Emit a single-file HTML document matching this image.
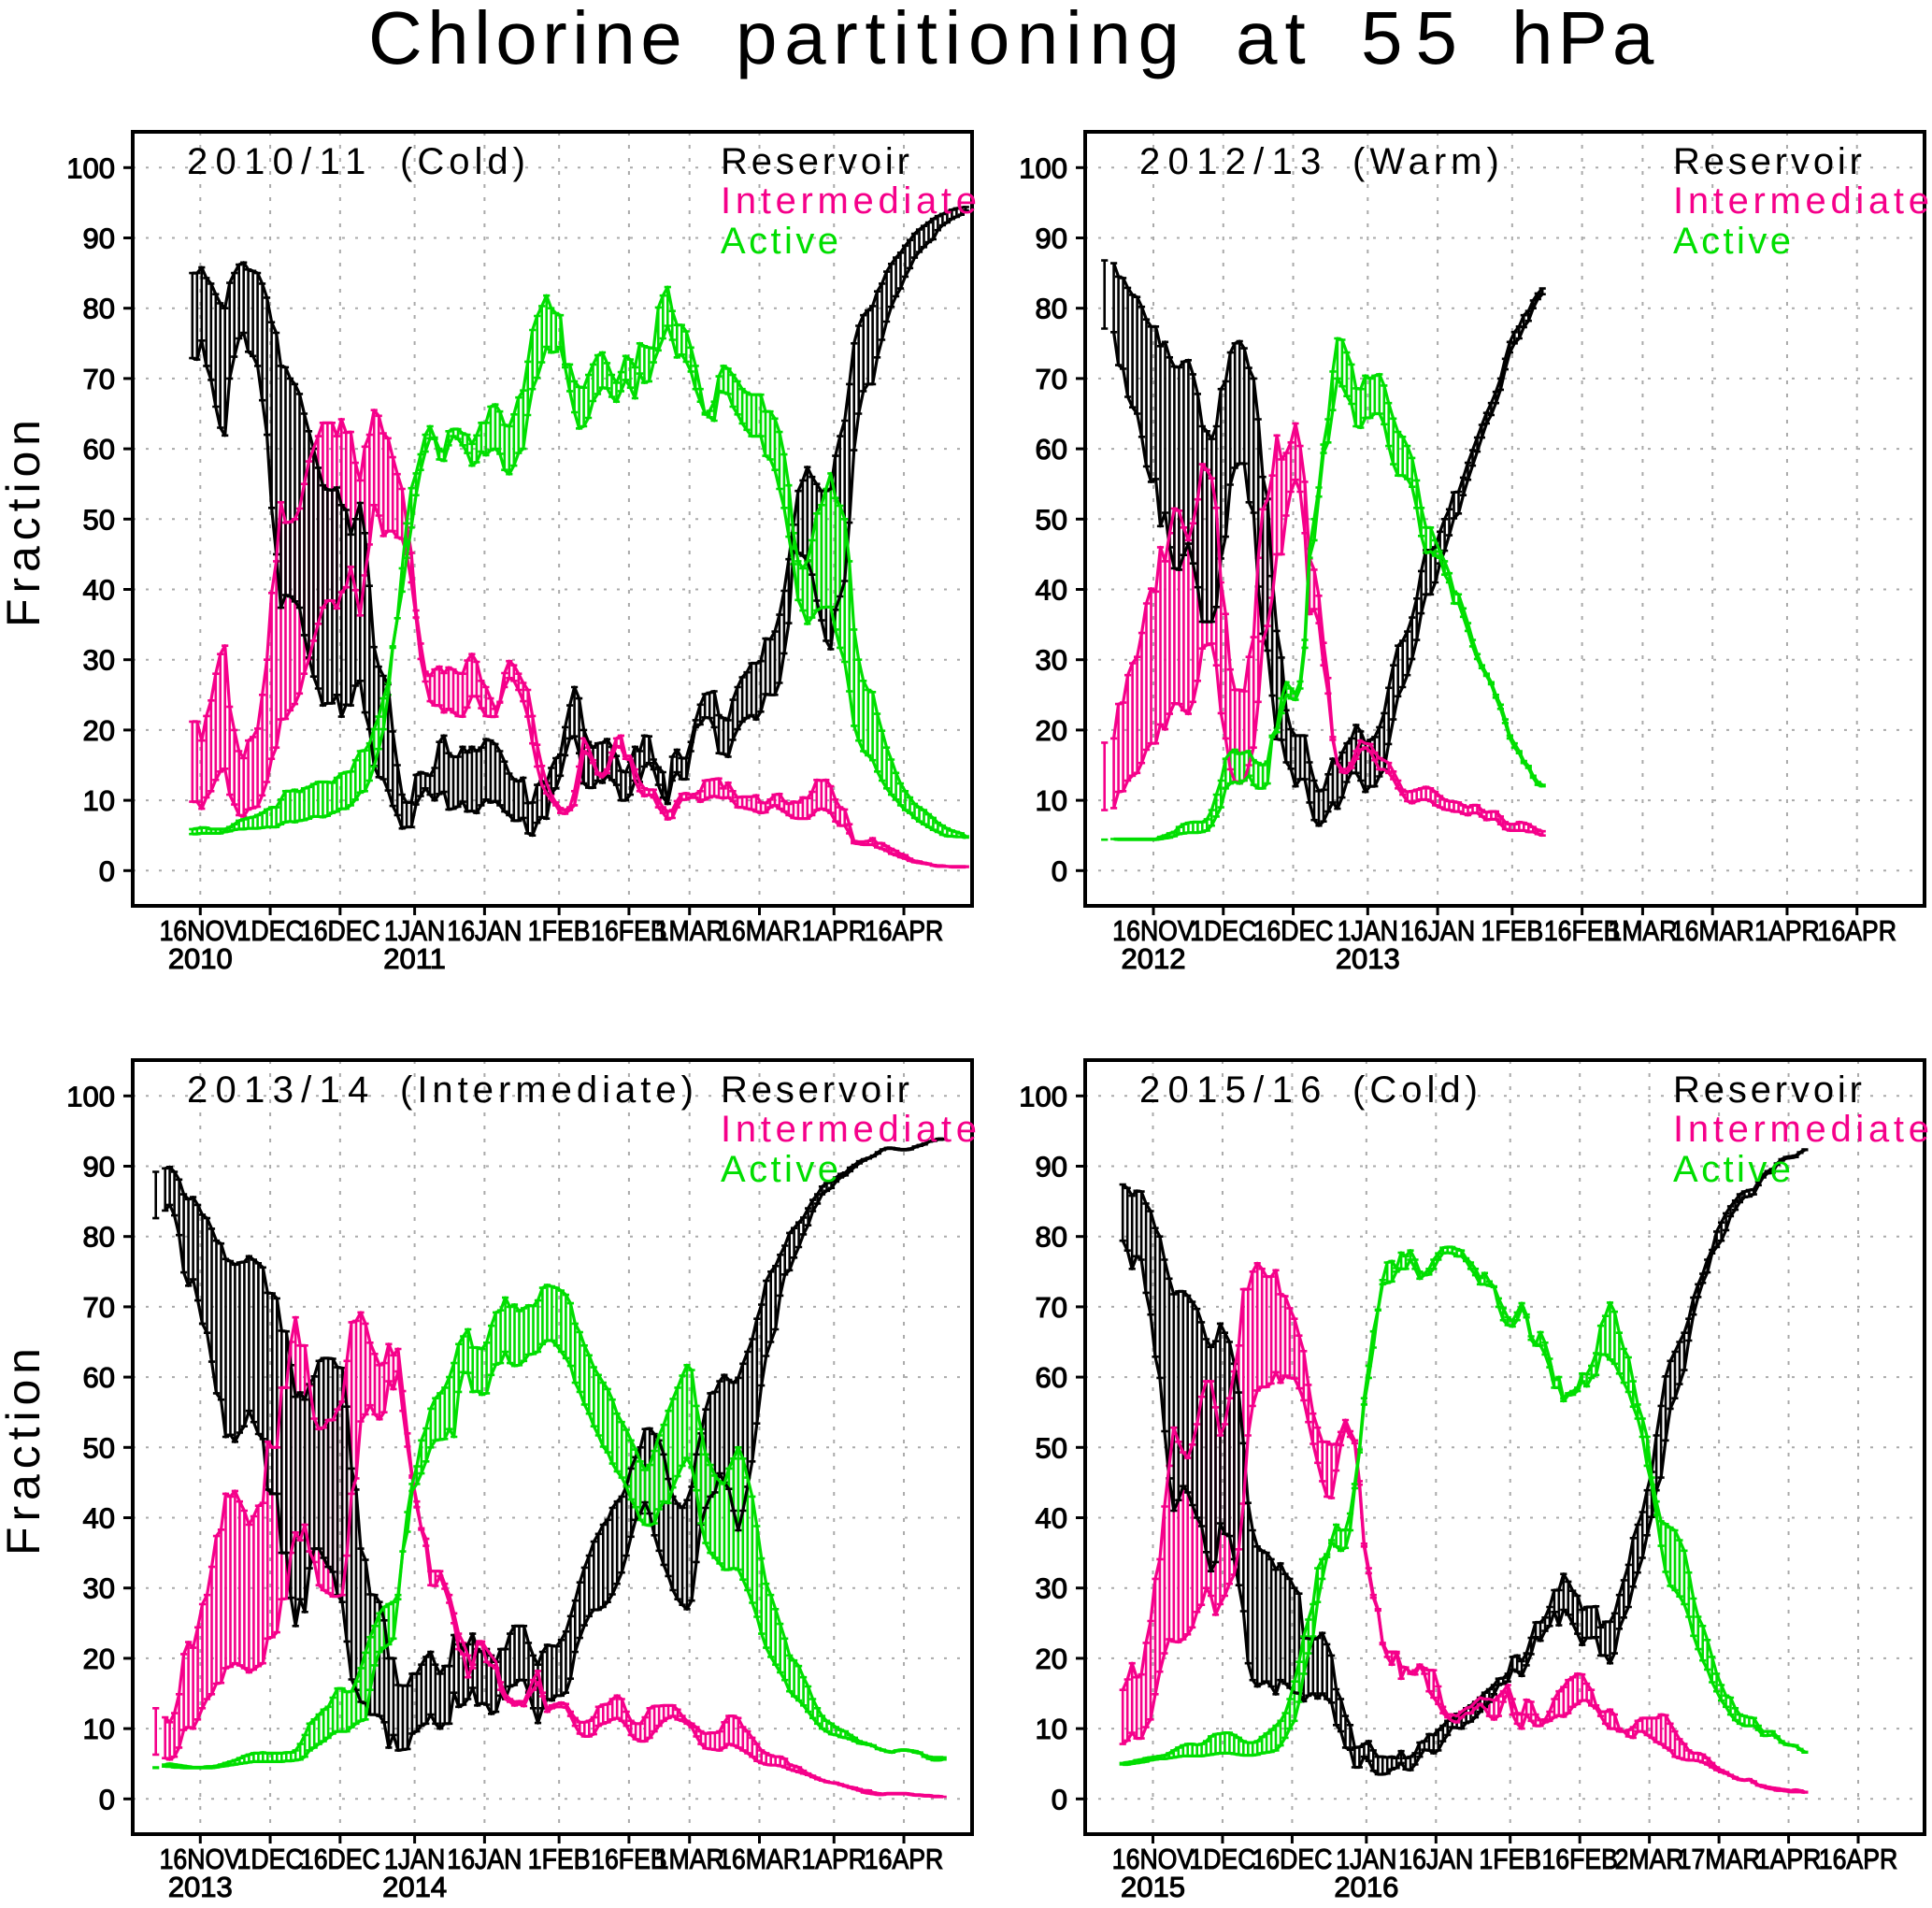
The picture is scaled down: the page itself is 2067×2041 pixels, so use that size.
<!DOCTYPE html>
<html>
<head>
<meta charset="utf-8">
<title>Chlorine partitioning at 55 hPa</title>
<style>
html,body{margin:0;padding:0;background:#fff;width:2067px;height:2041px;overflow:hidden}
svg{display:block}
text{font-family:"Liberation Sans",sans-serif}
.tick{font-size:31px;fill:#000;stroke:#000;stroke-width:1.1px}
.lab{font-size:40px}
</style>
</head>
<body>
<svg id="chart" xmlns="http://www.w3.org/2000/svg" width="2067" height="2041" viewBox="0 0 2067 2041">
<rect x="0" y="0" width="2067" height="2041" fill="#fff"/>
<text y="68" font-size="80" fill="#000"><tspan x="394" style="letter-spacing:5.4px">Chlorine </tspan><tspan x="787" style="letter-spacing:7.6px">partitioning </tspan><tspan x="1322" style="letter-spacing:8px">at </tspan><tspan x="1456" style="letter-spacing:14px">55 </tspan><tspan x="1617" style="letter-spacing:5px">hPa</tspan></text>
</svg>
<script>
const yTickValues=[0,10,20,30,40,50,60,70,80,90,100];
const tickDaysStd=[0,15,30,46,61,77,92,105,120,136,151];
const tickLabelsStd=["16NOV","1DEC","16DEC","1JAN","16JAN","1FEB","16FEB","1MAR","16MAR","1APR","16APR"];
const tickDaysLeap=[0,15,30,46,61,77,92,107,122,137,152];
const tickLabelsLeap=["16NOV","1DEC","16DEC","1JAN","16JAN","1FEB","16FEB","2MAR","17MAR","1APR","16APR"];
const seriesNames=["Reservoir","Intermediate","Active"];

const p1ResHi=[85,85,85.8,84.3,83.5,82,80.7,80,83.6,85,
86.2,86.5,85.5,85.3,85,83.5,81.5,78,76.5,71.8,
71.6,70,69.2,67.8,65,62.5,60,57.3,54.8,54.2,
54.1,54.5,52,51.3,47.8,50,52.3,48,40.5,31.8,
29,27.7,26.5,19.8,15,10.8,9.7,9.7,13.6,14,
13.8,13.5,14.6,18.3,19.2,16.7,16.2,16.2,17.6,16.8,
17.6,17,17.5,18.7,18.5,18,17,15.5,13.8,13,
12.7,13.2,9.6,9.7,12.2,12.7,12.4,14.6,16,16.5,
20.4,23.5,26.1,24.5,20,18.3,17.5,18.1,18.2,18.7,
17.6,16.3,14.2,14,15.5,17.6,17,19.2,19.1,15.8,
14.7,14,9.5,16.2,17.2,16,16,18.3,21.4,23.6,
25.1,25.3,25.5,22.1,21.7,21.4,24.3,26.1,27.5,28.2,
29.5,29.5,29.8,33,32.9,34,36.4,39.8,44.3,49.2,
54,55.5,57.4,56,55,54,54,54.3,59,61.8,
64,69.2,75,77.5,79,79.7,80.3,82.4,83.5,85.2,
86.3,87.2,87.9,88.9,89.7,90.6,91.2,91.7,92.2,92.7,
93.1,93.4,93.7,94,94.2,94.3,94.4];
const p1ResLo=[72.9,72.7,75.4,71.8,69.8,66,63,61.9,70,73.1,
75.7,76.5,73.8,73.2,71.8,66.9,62,51.6,45,37.4,
39.2,39,38.3,37.4,33.5,30.3,27.6,25.9,23.5,23.8,
23.8,25,21.9,23.6,23.5,26.3,27,22.5,20.1,14.9,
13.3,13,11.4,9.2,7.9,6,6.2,6.2,9.4,10.6,
11.7,10.8,10,10.9,11.2,8.7,8.8,9.1,9.8,8.4,
8.5,8.2,9.3,10.1,9.7,9.9,9.3,8.4,7.9,7.1,
7.1,7.5,5.3,5,6.8,7.6,7.4,11,11.7,13.5,
16.4,18.8,19.1,16.7,12.4,11.8,11.8,12.8,12.5,13.5,
12.9,12.2,10,10,10.8,12.8,12.6,14.8,15.3,14.4,
12.2,10.4,9.6,12.8,14,13,13,17,20.4,20.8,
21.8,21.7,20.4,16.7,16.6,16.2,18.6,20.1,21.2,21.7,
22.1,21.5,22.6,25.1,25,25,26.7,30.9,35.2,45.4,
45.2,44.8,44.1,42.1,38.4,35.6,32.7,31.5,37.1,39,
41.2,49.5,59.8,65,68.2,69.2,69.2,73,75.5,78.1,
80.2,81.7,82.8,84.5,85.7,87.2,88,88.7,89.4,89.8,
91.1,91.8,92.2,92.7,93,93.3,93.9];
const p1IntHi=[21.2,21.2,18.5,22,24.2,28,30.8,32,23.3,20,
17,16,18.5,19,20.2,25,30,39.5,44,52.4,
49.5,49.6,50,51.5,55,58.2,60,61.8,63.7,63.7,
63.7,61.8,64.2,62.3,62.4,58,55.5,60.3,62,65.5,
64.7,62.2,61.5,58.8,56.4,54.3,49.4,45.2,37,32.3,
28.3,27.7,28.6,29,28.1,28.9,28.6,28.1,28,29.9,
30.8,29.7,27,26.1,24.5,23,24,28.1,29.8,29.2,
28,26.7,25.7,22,17.9,14.9,12.5,10.8,9.7,8.9,
8.6,9,11.3,14.8,18.8,17.5,15.7,13.9,13.7,14.4,
16.8,18.8,19.2,16.3,16.3,14.4,12.6,11.7,11.5,11.5,
10.1,9,8.4,8.6,9.9,10.9,11,10.8,10.9,11.3,
12.8,12.9,13,13.1,11.7,12.5,11.3,10.4,10.5,10.5,
10.5,10.7,9.7,9.6,10.1,10.8,10.9,9.9,9.5,9.8,
9.7,10.4,10.3,11.2,12.9,12.8,12.9,12,10.1,9,
8.7,6.6,4.2,4.1,4.1,4.2,4.6,3.9,3.9,3.5,
3.1,2.8,2.4,2.2,1.7,1.4,1.3,1.1,1,0.8,
0.7,0.7,0.6,0.6,0.6,0.6,0.6];
const p1IntLo=[9.8,9.8,8.8,10.4,11.3,12.9,14.1,14.5,10.8,9.4,
7.9,7.7,8.7,8.9,9.1,10.7,12.6,15.9,17.5,21.5,
21.6,22.8,23.7,25.2,28,30.1,32.7,35.1,37.4,38.4,
38.4,37.3,39.6,40.3,43.2,39.9,36.3,42,46.4,52,
50.5,47.6,48.3,48.3,47.4,47.2,45,41,36,30.1,
26.9,24.1,23.5,23.5,22.5,23,22.5,22,21.9,23.2,
24.8,24.8,23.1,22,21.9,21.9,23.9,26.1,27.4,27,
25.7,24.1,21.9,18.1,14.8,12.2,11,10,9.3,8.2,
8.1,8.6,9.3,12.6,17,16.6,15.3,13.7,13.3,13.9,
16.1,17.7,17.5,15.9,15.7,12.8,11.3,10.6,10.8,10.4,
9,8.2,7.3,7.5,9,10.1,10.1,10.4,10.4,9.8,
10.1,10.4,10.6,10.4,10.3,10.4,9.9,9,9,8.8,
8.7,8.4,8.2,8.3,9,9.3,8.8,8.4,7.9,7.5,
7.4,7.4,7.4,7.9,8.6,8.8,8.6,8.2,7,6.4,
6.4,5.3,3.9,3.8,3.7,3.7,3.7,3.3,3.1,2.8,
2.4,2.2,1.9,1.7,1.4,1.2,1.1,1,0.9,0.7,
0.6,0.6,0.6,0.5,0.5,0.5,0.5];
const p1ActHi=[5.9,6,6.1,6.1,5.9,5.9,5.9,5.9,6.2,6.6,
7.1,7.3,7.5,7.6,7.9,8.2,8.7,9,9,10.1,
11.3,11.3,11.5,11.2,11.7,11.9,12.3,12.6,12.6,12.6,
12.5,13.2,13.8,14,14.1,15.7,17,17.1,18.1,20.1,
21.9,24.5,26.7,31.9,35.9,43,49.4,54.4,56.5,59.2,
62,63.2,61.6,60,59.6,62.5,62.8,62.8,62.2,62,
60.7,61.9,63.7,63.7,66,66.3,65.3,63.4,63.2,64.9,
67.3,68.3,72.4,76.9,78.9,80.3,81.8,80,79.3,79,
72,72,69.6,68.8,68.7,70.5,72,73.3,73.7,72.2,
70.5,69.4,70.9,73.2,72.7,71.6,75,74.6,74.4,74.3,
80.1,81.8,83,79.6,77.6,77.6,76.7,74.4,71.8,68.5,
64.9,65.4,66.7,70.3,71.8,71.4,70.5,69.6,68.5,68,
67.7,67.7,67.7,65.3,65.3,64.3,62.4,59.2,54.8,48,
44,43,44,47,50.8,52,54.3,56.5,53,51.9,
50,44,34.3,30,27,25.7,25.4,22.3,19.9,17.5,
15.8,13.9,12.4,11.3,10.4,9.5,9,8.6,8,7.5,
6.8,6.4,6,5.7,5.5,5.3,4.9];
const p1ActLo=[5.2,5.2,5.3,5.3,5.3,5.3,5.3,5.5,5.6,5.8,
5.9,5.9,6,6,6,6.1,6.2,6.2,6.2,6.6,
6.9,7,6.9,7.1,7.2,7.4,7.7,7.7,7.6,7.8,
8.2,8.4,8.8,8.8,9.3,10.1,11.1,11.3,12.8,14.8,
17.3,20.1,25,31.7,35.9,39.7,44.5,48.8,53.4,57,
59.6,61.5,61.4,58.5,58.3,60.5,61.8,61.4,60.5,59.4,
57.6,58.1,59.6,59.1,59.8,60,59.3,57,56.4,57.6,
59.4,60,64.8,68.5,70.1,72.3,74.5,73.7,73.8,74.5,
71.6,68.2,65.2,62.9,63.2,64.4,66.8,67.8,68.7,68.6,
67.4,66.7,68.2,69.8,68.7,67.2,70.7,69.4,69.6,72.3,
74,75.7,77.5,75.5,73,73.4,72.4,71,68.5,66.7,
65.1,64.5,64,68.2,68,67.8,66,64.9,63.6,62.7,
61.8,61.8,61.8,59,58.5,57,54.3,51.6,47.5,43.6,
38.5,37,35.1,36,37,37.4,37.5,37.5,34.3,31.7,
29.7,25.5,20.6,18.5,17,16.4,15.7,14.1,12.8,11.7,
10.8,10.1,9.3,8.6,8.2,7.5,7,6.6,6.2,5.8,
5.5,5.1,4.9,4.9,4.8,4.8,4.7];

const p2ResHi=[86.8,null,86.4,84.5,84.3,82.9,81.9,81.6,80.2,78.4,
77.4,77.4,74.6,75.2,73,71.7,71.6,72.4,72.6,70.6,
67.8,63.2,62.5,61.4,63.2,68.5,69.6,73.7,75,75.3,
74.3,71.5,70,64.2,56,52.9,41.9,34.1,30.3,22.8,
20.1,19.2,19.2,19.2,15.4,12.8,11.3,11.5,13.7,15.9,
15.3,16.8,18.1,18.8,20.7,19.8,18.1,18.6,19,20.4,
22.4,26,29.2,32,32.7,34,36,38.7,42.6,45.6,
45.5,46,48.2,50,51.4,53.8,53.9,55.9,58,59.8,
61.6,63.4,65.1,66.5,68.1,70,72.8,75.2,76.6,77.4,
79,79.6,81.1,82.1,82.8];
const p2ResLo=[77.1,null,76.6,71.9,71.4,67.4,65.9,65,61.7,57.5,
55.3,55.7,49,50.9,46,43,42.8,44.9,46.5,43.7,
40.3,35.4,35.4,35.4,37.5,44.4,47.5,54.9,57.3,57.9,
57.9,52.4,50.9,40.4,33.7,31.3,24.9,18.7,18.6,15.4,
14.5,12,13,13,9.7,7.2,6.4,7,8.4,9.7,
8.8,10.4,12.6,13.9,13.9,12.8,11.2,12,12,13.4,
14.4,18,21.5,24.8,26.1,27.8,30.1,32.8,36.6,39.3,
39.3,41,43.7,45.5,47.7,50.1,50.8,53.4,55.6,57.6,
59.6,61.6,63.6,64.8,66.5,68.4,71.3,73.7,75,75.7,
77.3,78.2,80,81.3,82];
const p2IntHi=[18.2,null,18.8,23.7,23.9,27.8,29.5,30.4,33.8,38,
40.1,39.7,46,44,48,51.5,51.2,48.8,47,49.4,
52.8,57.8,57,55.8,51.6,41,36.5,28.6,25.7,25.7,
25.5,30.4,33.2,44.5,51.4,52.8,56.2,61.9,58.5,59.4,
60.9,63.6,60.4,55.3,44.4,42.8,39.1,32.4,27.4,19,
15.3,14.4,14.4,15.3,17,18.5,18.1,18,16.8,16,
15.7,15.3,14.1,12.8,11.5,11.2,11.3,11.5,11.7,11.9,
11.7,11.2,10.6,10.1,9.9,9.8,9.7,9.3,9,9.3,
9.3,8.6,8.3,8.4,8.4,7.7,6.9,6.6,6.6,6.9,
6.8,6.6,6.2,5.8,5.6];
const p2IntLo=[8.6,null,8.9,11.2,11.3,12.8,13.5,13.9,15.3,17.2,
18.1,18.1,20.8,20.1,22.3,23.8,23.7,22.8,22.3,24,
27,31.6,32.1,32.3,29.2,22.4,18.8,14.4,12.7,12.4,
12.8,15,17.5,24,32.6,34.8,38.8,45,45,50.5,
53.9,55.6,53.9,48,36.5,37.2,35.2,29.2,25.2,18.6,
15.2,14,13.9,14.6,15.9,17.2,17.5,17,15.7,14.4,
14.4,13.9,13,11.7,10.8,9.9,9.6,9.9,10.1,10.1,
9.9,9.3,9,8.7,8.6,8.4,8.4,8.1,7.9,8.2,
8.2,7.7,7.2,7.3,7.3,6.6,5.9,5.7,5.7,5.7,
5.7,5.5,5.5,5.2,5];
const p2ActHi=[4.4,null,4.5,4.5,4.5,4.5,4.5,4.5,4.5,4.5,
4.5,4.5,4.8,5,5.3,5.5,6.2,6.6,6.8,6.9,
6.9,6.9,7.3,8.6,10.8,12.8,15.9,16.8,17.2,16.6,
16.8,17,15.7,15.3,15,15.5,19.2,20.3,24.5,26.8,
25.9,25.2,26.9,32.8,45.8,50,54.5,60.6,64.2,71,
75.7,75.5,73.7,72,68.6,68.5,70.4,70,70.4,70.6,
69,66.5,64.3,62.4,61.7,60.4,58.7,55.5,51.6,48.8,
48.8,47,45.4,44,42.3,39.7,39.3,37.3,35.2,32.8,
30.8,29.2,28,26.8,25,23.6,21.5,19.2,18.1,17,
15.6,14.9,13.5,12.6,12.2];
const p2ActLo=[4.4,null,4.5,4.4,4.4,4.4,4.4,4.4,4.4,4.4,
4.4,4.4,4.5,4.6,4.7,4.9,5.2,5.3,5.4,5.4,
5.4,5.5,5.7,6.4,7.7,9,11.7,12.4,12.6,12.4,
12.8,13.5,12.2,11.7,11.7,12.4,19,19.7,22.4,25,
24.5,24.3,25.9,31.7,44.5,47,53.2,59.4,60.9,65.5,
70,68.9,67.5,66.4,63.2,63,64.4,64.4,65,65,
63.5,60.4,57.8,56.2,56.2,55.7,54.6,51.6,47.6,45.2,
45.4,44.8,44.5,42.1,41,38,38,36.1,34.1,31.9,
30.1,28.8,27.7,26.5,24.6,23,21,18.8,17.5,16.7,
15.3,14.6,13.2,12.2,12];

const p3ResHi=[89.2,null,89.7,89.9,89.2,88.1,86,85.3,85.6,84.5,
83.1,82.6,81.1,79.4,79,76.8,76.5,76,76.3,76.4,
77.2,76.7,76.2,75.6,72,71.9,71.2,66.6,66.5,61.7,
57.2,57.8,56.8,59,60.1,62.3,62.7,62.7,62.6,61.4,
61.3,55.8,47,44,35.6,34,29.1,29,28,25.4,
20,20,16.2,16.1,16.1,17.8,17.8,19.1,20.2,20.9,
19.1,17.8,18.9,18.9,23.3,22,21.3,22,23.5,21.3,
20.9,21.3,20.4,19.5,21.3,21.3,23.5,24.6,24.6,24.6,
22.2,20.4,19.1,20.9,21.9,21.8,21.7,22.6,23.8,26,
28.2,30.8,32.9,34.6,36.6,37.7,39,39.7,41.4,42.3,
43,44.5,47,48.6,50,52.6,52.7,51.9,51,49,
45.5,43,42,41.4,42.5,44.4,49,52,55.4,57.7,
57.9,59.4,60.3,59.6,59.2,59.9,61.9,63.6,65.4,68.3,
70.3,73.7,75,75.8,77.4,78.7,80.5,81.2,82,82.7,
84,85.2,86,87.1,87.6,87.8,88.4,88.9,89.1,89.8,
90.2,90.7,91,91.2,91.5,92,92.4,92.6,92.6,92.5,
92.4,92.4,92.5,92.8,93,93.2,93.5,93.7,93.9,93.9];
const p3ResLo=[82.6,null,83.7,84.5,83,80.2,74.9,73,73.9,70.9,
67.6,66.3,62.2,57.7,56.8,51.5,51.8,50.8,52.1,53,
55.2,53.6,51.9,51.2,44,43.4,43.4,35,35,28.6,
24.6,28.4,26.6,32.8,35.6,35.6,34.3,33,32.3,29,
28,22.4,17,15.5,13.8,13.6,12,12,11.8,10.9,
7.3,9.1,6.9,7,7.1,9.3,9.6,10.4,10.7,12,
10.7,10,10.7,10.7,15.1,13.1,13.4,14.2,15.8,13.3,
13.6,13.4,12.1,12.4,14.7,14.2,16,16.2,16.9,16.9,
15.1,12.9,10.8,12.9,14.2,14,14.7,14.7,15.1,17.1,
20.9,22.9,24.7,26,26.9,26.9,27.3,28,29.1,30.6,
32.2,34.6,37.3,39.7,40.6,42.2,40.6,37.5,35.3,33.3,
31.7,29.7,28.4,27.6,27,28.2,33.7,39,41.4,43,
43.6,46.3,45,44.1,41,38.2,41,44.4,48,53.4,
58.8,63,65,66.8,71.6,74.6,75.2,77,78.5,80.3,
81.6,83.6,84.7,86,86.5,86.9,87.8,88.4,88.7,89.3,
89.9,90.4,90.8,91.1,91.4,91.8,92.3,92.5,92.5,92.4,
92.3,92.3,92.4,92.7,92.9,93.1,93.5,93.6,93.8,93.8];
const p3IntHi=[12.9,null,11.6,10.9,12.2,14.9,20.6,22.3,21.5,24.4,
27.7,29,33,37.4,38.3,43.4,43,43.8,42.3,41,
39,40.2,41.7,42.1,50.8,50,50,58.5,58.5,65,
68.5,64.5,64.5,58.8,54.1,52.6,52.8,53.9,53.9,55.4,
56.5,62.3,67.8,68,69.2,67.6,64.9,63.3,61.7,62,
64.7,63.1,64,58,52,46,41.5,38.5,37,32.4,
32.4,32.4,30.6,29,26.4,23.5,22.2,20.4,18.6,22.4,
22.4,21.3,20.4,19.5,16.6,14.9,14.2,13.8,13.9,13.8,
15.3,16.9,18.2,15.1,12.9,13.3,13.5,13.7,13.5,12.4,
11.5,10.9,10.9,11.1,11.6,13.1,13.4,13.5,14.2,14.7,
14.2,12.4,11.1,10.7,10.7,11.6,12.9,13.2,13.2,13.3,
13.3,13.3,12.7,11.8,11.1,10.7,10.2,9.6,9.3,9.4,
9.4,9.6,10.9,11.8,11.8,11.5,10.2,9.6,8.7,7.8,
6.9,6.5,6.2,6,6,5.7,4.9,4.7,4.5,4,
3.6,3.3,3,2.7,2.5,2.3,2.3,2.1,1.9,1.7,
1.6,1.4,1.2,1.2,0.9,0.8,0.7,0.8,0.8,0.8,
0.8,0.8,0.7,0.6,0.6,0.5,0.5,0.4,0.4,0.3];
const p3IntLo=[6.3,null,5.8,5.6,6,7.3,9.8,10.2,10,11.3,
12.9,14.2,14.9,16.4,16.5,18.6,18.8,19.3,19,18.6,
18,18.4,18.9,19.3,22.8,23,23.7,28.4,28.5,35,
37.9,36.8,39,35.2,33.7,30.4,29.7,29.3,28.8,28.8,
29,34.6,43.4,45.6,53.7,54.7,56,54.7,54,55,
59.4,58.3,60.8,55.2,50.1,45.7,42.3,38.3,36,30.4,
30.3,31.7,29.9,27.9,25,21.3,20.6,17.3,19.1,22,
22,19.5,19,18.6,15.5,14.2,13.8,13.3,13.5,13.2,
14.6,15.5,16.6,14.6,12.4,12.9,13.1,13.1,13,11.8,
10.4,9.3,8.9,8.9,9.2,10.4,10.7,10.9,11.3,11.5,
11.1,10.4,9.1,8.5,8.2,8.2,8.7,9.6,10.4,11.1,
11.5,11.8,11.3,11.1,10.7,10.2,8.9,7.8,7.2,7.1,
7,6.9,7.3,7.8,7.6,7.3,6.9,6.5,6,5.4,
5.1,4.9,4.8,4.8,4.7,4.5,4.2,4,3.8,3.6,
3.4,3.1,2.8,2.6,2.4,2.3,2.2,2,1.8,1.6,
1.4,1.2,0.9,0.8,0.7,0.6,0.6,0.7,0.7,0.7,
0.7,0.7,0.6,0.5,0.5,0.4,0.4,0.3,0.3,0.3];
const p3ActHi=[4.5,null,4.9,5,4.9,4.8,4.7,4.6,4.5,4.5,
4.5,4.6,4.6,4.7,4.9,5.1,5.3,5.5,5.8,6.1,
6.3,6.5,6.5,6.6,6.5,6.5,6.5,6.5,6.6,6.6,
6.9,7.8,9.1,10.7,11.3,12,12.7,13.1,14.4,15.7,
15.7,15.2,15.3,16.7,18.6,20.8,23,24.6,26.4,27.3,
27.7,28,29,35.2,40.8,44.8,47.3,51,52.7,55.5,
57,57.7,58.5,60,62,64.7,65.8,66.8,64.2,64.2,
64,64.9,67.3,69.2,69.5,71.3,70,70.3,69.4,69.8,
70.2,70.1,70.9,72.7,73.1,72.9,72.7,72.3,71.7,70.5,
67.6,66.4,64.5,63.1,61.4,60.3,59.2,58.3,56.8,54.8,
53.6,52.5,51,49.7,48,46.8,47.5,49.5,51.7,53.2,
55.2,56.9,58.5,60.2,61.7,61,55.9,52.6,49,47.5,
46,45.2,44.8,47,48.4,50,48.4,45.7,43,38.8,
34.2,30.6,29,27,24.9,22.8,20.4,19.7,18.9,17.3,
16,14.2,12.9,11.8,11.1,10.7,10.2,9.8,9.6,9.1,
8.7,8.2,8,7.8,7.6,7.2,7,6.8,6.7,6.9,
7,7,6.9,6.8,6.6,6.2,6,5.9,5.9,5.9];
const p3ActLo=[4.4,null,4.6,4.6,4.5,4.5,4.4,4.4,4.4,4.4,
4.4,4.4,4.4,4.5,4.6,4.7,4.8,4.9,5,5.1,
5.2,5.3,5.3,5.3,5.3,5.3,5.3,5.3,5.4,5.4,
5.5,5.6,6,6.9,7.3,7.8,8.2,8.7,9.3,9.6,
9.6,9.6,10.2,10.7,11.1,11.3,15.5,19,20.9,21.5,
22,22.8,28.4,35.2,38,43.8,44.8,46.3,48,50,
51,51.1,51.2,52.6,51.5,57.9,60.7,60.6,57.9,58,
57.5,57.7,60.3,61.8,62,63.6,62,61.6,61.7,62.3,
63.2,63.3,63.6,64.7,65.2,65.2,64.5,63.6,62.7,61.6,
59.2,57.9,56.1,54.8,53,51.7,50.1,49.3,47.7,46.6,
45.7,44.4,42.6,41.5,39.7,39,38.9,39.2,41.2,42.3,
42.1,44.3,45.9,47.4,48.5,47.2,43.9,39.2,36.4,35,
34.3,33.5,32.6,32.6,32.8,32.6,31.2,29.7,27.9,25.9,
23.5,21.5,20.2,19.1,18,16.9,15.3,14.6,14,13.3,
12.4,11.5,10.7,10,9.6,9.2,9.1,8.8,8.7,8.5,
8.2,7.9,7.8,7.7,7.5,7.1,6.9,6.7,6.6,6.8,
6.9,6.9,6.8,6.6,6.5,6,5.7,5.5,5.5,5.6];

const p4ResHi=[87.4,86.9,85.8,86.5,86.4,84.7,83.6,81.2,80,76.7,
74,71.8,72.2,72.2,71.6,70.7,69.7,67.8,65.4,64.3,
65.1,67.6,66.3,65,61.9,57.8,50.6,42.1,38.2,35.9,
35.3,35,34.1,32.6,33.5,32,31.3,30,29.2,22.9,
22.8,22.7,22.9,23.6,22,20.4,15.6,14.2,11.8,10.5,
7.3,7.4,7.8,8.2,6.9,6,6,5.9,6,5.8,
6.8,5.8,6,6.5,8,8.2,9.2,9.1,9.8,10.4,
11.1,11.3,12.1,12,12.9,13.3,13.8,14.4,15.1,15.6,
16.2,17.1,17.2,17.8,20.2,20.4,19.6,20.7,22.9,25.1,
25.1,25.8,27.3,29.7,29.7,32,30.9,29.6,28.9,26.9,
27.3,27.3,27.4,24.4,25.2,25.2,26.4,29,31.1,33.3,
37.1,39,40.8,43.9,46.5,51.7,55.9,60.1,62.3,63.6,
65,66.3,68.3,71.3,73.2,74.7,76.7,78.1,80.7,82,
83.3,84.3,85.1,86,86.4,86.6,86.7,87.8,88.8,89.3,
89.6,90.4,91,91.3,91.4,91.5,92,92.4];
const p4ResLo=[79.4,78,75.4,77.2,76.7,72,68.9,62.9,59.9,52.3,
45.6,41,42.5,44.5,43.6,41.8,40,38.8,35.1,32.4,
33.7,39.2,37.7,37.4,34.1,30.4,26.7,19.3,16.9,16,
16.4,16.7,16,14.9,16.9,16.4,15.8,15.1,15,13.9,
14.7,15,14.3,15,14.2,13.7,10.5,9.6,7.3,7,
4.5,4.5,6,5.4,4,3.5,3.5,3.6,4.2,4.4,
5.1,4.2,4.1,4.9,6,7,6.9,6.5,6.9,8.2,
9.1,10.2,10.1,10,10.8,11,11.6,12.4,13.1,13.8,
14.9,16.2,16.4,16.7,18.4,18.1,17.5,19,20.6,23,
22.5,23.9,24.6,26.6,24.7,26.9,26.2,24.9,23.5,21.9,
22.9,22.9,23,20.4,20.4,19.3,20.7,24.2,25.8,27.3,
30.2,32.2,34.3,37.5,40.1,43.9,45.7,51,55.5,57,
59,61,65.2,68.9,71.4,73.4,74.9,77.6,78.5,79.4,
80.9,82.9,83.8,84.9,85.6,85.7,86,87.3,88.4,89,
89.1,90.2,90.8,91.1,91.2,91.3,91.9,92.3];
const p4IntHi=[15.5,17,19.3,17.3,17.7,22.2,25.3,31.3,34.1,41.6,
47.4,52.8,50.8,49.3,48.5,50.4,53.3,57.2,59.4,59.4,
55.7,51.7,53.3,57,60.8,64.5,72.5,72.5,75,76.2,
75.4,74.3,74.3,75.2,71.8,71.5,69.8,68.3,65.9,63.7,
58.9,54.8,52.8,50.8,50.8,50.4,50.5,52.2,53.9,52.3,
51,45.2,36.3,32.8,29,27,22.2,20.9,20.9,20.9,
18.8,18.7,18,18.3,19.1,18.6,18.3,18.3,16,13.1,
12,12,11.8,12.4,12.9,13.1,13.8,14.4,14.2,14.2,
14,14.6,15.3,16.2,14.2,12.2,12,14.1,13.8,12,
11.2,11.3,12.4,14.2,15.3,15.9,16.9,17.3,17.8,17.7,
16.4,15.5,13.3,12.4,12.4,12.7,12,10,9.6,9.8,
10.2,11.1,11.5,11.5,11.5,11.5,12,11.9,10.7,9.6,
8.5,7.8,6.9,6.5,6.5,6.3,5.8,5.1,4.5,4.1,
3.8,3.4,3.1,2.8,2.7,2.8,2.5,2,1.9,1.7,
1.6,1.5,1.4,1.3,1.2,1.3,1.2,1];
const p4IntLo=[7.8,8.3,9.4,8.6,8.6,10.2,11.3,14.9,18.1,20.7,
22.7,22.4,22.3,22.7,23.4,24.4,26.6,27.6,30,28.9,
26.2,27.7,28.9,30.6,31.9,35.5,42,51.7,55.9,58.1,
58.6,58.6,59.1,60.7,59.2,60.2,59.9,59.8,58.4,56.7,
53.6,50.5,47.8,45.2,43,42.8,46.7,50.3,52.8,51.5,
50.6,44.7,35.9,32.1,28.6,26.8,22,20.2,19.1,20.7,
17.1,18.7,17.8,17.7,18.9,17.8,15.3,14.4,13.5,12.2,
11.6,11.1,10.9,11.6,12.2,12.2,12.9,13.5,12.9,11.8,
11.3,11.8,13.8,15.1,12,10.7,10,12,11.1,10.4,
10.4,10.9,11.1,11.6,11.9,11.7,12.2,13.1,13.5,14,
14,13.3,12.9,11.8,10.7,10,10,9.6,9.6,8.9,
8.7,9.6,9.6,9.1,8.7,8.1,7.8,7.3,6.9,6,
5.8,5.6,5.5,5.5,5.4,5.2,4.9,4.5,4.1,3.8,
3.6,3.3,2.9,2.7,2.6,2.7,2.3,1.9,1.7,1.5,
1.4,1.2,1.2,1.1,1,1,1,0.9];
const p4ActHi=[5.1,5.2,5.3,5.5,5.6,5.8,5.9,6,6.1,6.2,
6.5,6.9,7.3,7.6,7.8,7.8,7.7,7.8,8.2,8.9,
9.2,9.3,9.4,9.4,9.1,8.7,8.2,8,8,8.2,
8.8,9.3,9.8,10.4,11.1,12.2,14.2,16.7,19.5,23.1,
25.5,27.7,32.8,34.1,34.8,36.8,39,38.2,38.3,40.6,
44.8,49.7,57,61.6,66.5,69.6,73.8,76.3,76.5,75.5,
77.7,77.2,78,76.7,75,74.7,75.4,76.7,77.6,78.4,
78.5,78.5,78.2,78,76.9,76.3,75.4,74.1,74.8,73.6,
72.9,71.2,69.8,68.5,68,69.2,70.5,68.9,65.8,64.7,
66.4,64.9,62.6,59.6,60,57,57.7,58,58.5,60.5,
60.4,61.6,63.4,67.3,68.7,70.6,69.3,66.3,64,62.8,
59.4,56.1,54.1,51.5,45.7,42.3,39.5,39.1,38.6,38.2,
36.8,35.3,32.2,28.5,25.9,24.6,22.6,20.2,17.8,16.2,
14.7,14.4,12.9,12,11.8,11.6,11.5,10.4,9.6,9.6,
9.6,8.9,8.2,7.8,7.7,7.6,7.1,6.7];
const p4ActLo=[4.9,4.9,5,5.1,5.2,5.3,5.5,5.6,5.7,5.7,
5.8,5.9,6,6.1,6.1,6.1,6.1,6.1,6.2,6.3,
6.4,6.5,6.5,6.5,6.4,6.3,6.2,6.2,6.2,6.3,
6.5,6.6,6.7,6.9,7.6,8.7,10,11.1,13.8,17.8,
20.7,23.1,28,31.3,34.4,36.4,35.9,35.3,35.7,38.2,
44.2,49.3,56.1,59.9,64.2,69.5,73.2,73.4,73.6,75,
75.4,75.4,76.7,75.4,74,74.5,74.6,75.4,76.7,77.6,
77.7,77.6,77.2,77.2,76.5,75.4,74.5,73.2,73.2,73,
72.8,70,68.1,67.4,67.2,68.1,69.8,68.5,65.3,64.5,
64.5,63.2,61.4,58.5,58.5,56.6,57.4,57.5,58,59.4,
58.7,59.9,60.3,63.2,63.2,62.5,61.9,60.5,59.2,57.9,
55.8,54.1,51.5,47.4,44.7,40.4,36,32.3,30.3,29.7,
28.8,27.7,25.9,23.2,21.3,19.7,18.4,16.6,15.3,14,
13.1,12,11.2,10.7,10.4,10.4,10.4,9.8,9,9,
9.1,8.7,8,7.7,7.6,7.5,7,6.6];

const svgNS='http://www.w3.org/2000/svg';
const root=document.getElementById('chart');
const COLORS={res:'#000000',int:'#f5008a',act:'#00de00'};
const FW=898,FH=828;

function mk(parent,tag,attrs,txt){
  const n=document.createElementNS(svgNS,tag);
  for(const k in attrs)n.setAttribute(k,attrs[k]);
  if(txt!==undefined)n.textContent=txt;
  parent.appendChild(n);
  return n;
}

function drawBars(g,name,color,hi,lo,x,y){
  const group=mk(g,'g',{});
  
  
  for(let i=0;i<hi.length;i++){
    if(hi[i]===null||lo[i]===null)continue;
    const px=x(i),yh=y(hi[i]),yl=y(lo[i]);
    const bar=mk(group,'path',{d:`M${(px-3.6).toFixed(1)} ${yh.toFixed(1)}H${(px+3.6).toFixed(1)}M${px.toFixed(1)} ${yh.toFixed(1)}V${yl.toFixed(1)}M${(px-3.6).toFixed(1)} ${yl.toFixed(1)}H${(px+3.6).toFixed(1)}`,stroke:color,'stroke-width':2.6,fill:'none'});
    
    
  }
}

function drawLines(g,name,color,hi,lo,x,y){
  let dHi='',dLo='',pen=false;
  for(let i=0;i<hi.length;i++){
    if(hi[i]===null||lo[i]===null){pen=false;continue;}
    const px=x(i).toFixed(1);
    dHi+=(pen?'L':'M')+px+' '+y(hi[i]).toFixed(1);
    dLo+=(pen?'L':'M')+px+' '+y(lo[i]).toFixed(1);
    pen=true;
  }
  const upper=mk(g,'path',{d:dHi,stroke:color,'stroke-width':3.2,fill:'none','stroke-linejoin':'round'});
  
  
  const lower=mk(g,'path',{d:dLo,stroke:color,'stroke-width':3.2,fill:'none','stroke-linejoin':'round'});
  
  
}

function drawPanel(c){
  const g=mk(root,'g',{});
  
  
  const L=c.left,T=c.top,B=T+FH,R=L+FW;
  const yAxis=v=>T+38.3+(100-v)*7.52;
  const xAxis=d=>c.x0+d*c.pxPerDay;
  const xIdx=i=>xAxis(c.startDay+i);

  yTickValues.forEach(v=>{
    const ln=mk(g,'line',{x1:L,x2:R,y1:yAxis(v),y2:yAxis(v),stroke:'#aaa','stroke-width':2,'stroke-dasharray':'3 11'});
    
    
    const tk=mk(g,'line',{x1:L-10,x2:L,y1:yAxis(v),y2:yAxis(v),stroke:'#000','stroke-width':3});
    
    
    const lb=mk(g,'text',{x:L-19,y:yAxis(v)+11,'text-anchor':'end',class:'tick'},String(v));
    
    
  });
  c.tickDays.forEach((d,i)=>{
    const ln=mk(g,'line',{x1:xAxis(d),x2:xAxis(d),y1:T,y2:B,stroke:'#aaa','stroke-width':2,'stroke-dasharray':'4 10'});
    
    
    const tk=mk(g,'line',{x1:xAxis(d),x2:xAxis(d),y1:B,y2:B+10,stroke:'#000','stroke-width':3});
    
    
    const lb=mk(g,'text',{x:xAxis(d),y:B+37,'text-anchor':'middle',class:'tick'},c.tickLabels[i]);
    
    
    lb.setAttribute('textLength',(lb.getComputedTextLength()*0.86).toFixed(1));
    lb.setAttribute('lengthAdjust','spacingAndGlyphs');
  });
  const y1=mk(g,'text',{x:xAxis(c.tickDays[0]),y:B+67,'text-anchor':'middle',class:'tick'},c.years[0]);
  
  
  const y2=mk(g,'text',{x:xAxis(c.tickDays[3]),y:B+67,'text-anchor':'middle',class:'tick'},c.years[1]);
  
  

  drawBars(g,'intermediate',COLORS.int,c.intHi,c.intLo,xIdx,yAxis);
  drawBars(g,'reservoir',COLORS.res,c.resHi,c.resLo,xIdx,yAxis);
  drawBars(g,'active',COLORS.act,c.actHi,c.actLo,xIdx,yAxis);
  drawLines(g,'reservoir',COLORS.res,c.resHi,c.resLo,xIdx,yAxis);
  drawLines(g,'intermediate',COLORS.int,c.intHi,c.intLo,xIdx,yAxis);
  drawLines(g,'active',COLORS.act,c.actHi,c.actLo,xIdx,yAxis);

  const frame=mk(g,'rect',{x:L,y:T,width:R-L,height:FH,fill:'none',stroke:'#000','stroke-width':4});
  
  

  const title=mk(g,'text',{y:T+45,class:'lab',fill:'#000'});
  
  
  mk(title,'tspan',{x:L+58,style:'letter-spacing:8.3px'},c.titleYear+' ');
  mk(title,'tspan',{x:L+286,style:'letter-spacing:5px'},c.titleKind);

  const leg1=mk(g,'text',{x:L+629,y:T+45,class:'lab',textLength:202,fill:COLORS.res},seriesNames[0]);
  
  
  const leg2=mk(g,'text',{x:L+629,y:T+87,class:'lab',textLength:274,fill:COLORS.int},seriesNames[1]);
  
  
  const leg3=mk(g,'text',{x:L+629,y:T+130,class:'lab',textLength:126,fill:COLORS.act},seriesNames[2]);
  
  

  if(c.showYTitle){
    const ylab=mk(g,'text',{transform:`translate(${L-100},${T+419}) rotate(-90)`,'text-anchor':'middle','font-size':50,textLength:222,fill:'#000'},'Fraction');
    
    
  }
}

drawPanel({key:'2010-11',left:142,top:141,x0:214.3,pxPerDay:4.985,startDay:-1.7,showYTitle:true,tickDays:tickDaysStd,tickLabels:tickLabelsStd,years:['2010','2011'],titleYear:'2010/11',titleKind:'(Cold)',
 resHi:p1ResHi,resLo:p1ResLo,intHi:p1IntHi,intLo:p1IntLo,actHi:p1ActHi,actLo:p1ActLo});
drawPanel({key:'2012-13',left:1161,top:141,x0:1234,pxPerDay:4.985,startDay:-10.5,showYTitle:false,tickDays:tickDaysStd,tickLabels:tickLabelsStd,years:['2012','2013'],titleYear:'2012/13',titleKind:'(Warm)',
 resHi:p2ResHi,resLo:p2ResLo,intHi:p2IntHi,intLo:p2IntLo,actHi:p2ActHi,actLo:p2ActLo});
drawPanel({key:'2013-14',left:142,top:1134,x0:214.3,pxPerDay:4.985,startDay:-9.55,showYTitle:true,tickDays:tickDaysStd,tickLabels:tickLabelsStd,years:['2013','2014'],titleYear:'2013/14',titleKind:'(Intermediate)',
 resHi:p3ResHi,resLo:p3ResLo,intHi:p3IntHi,intLo:p3IntLo,actHi:p3ActHi,actLo:p3ActLo});
drawPanel({key:'2015-16',left:1161,top:1134,x0:1233.5,pxPerDay:4.964,startDay:-6.5,showYTitle:false,tickDays:tickDaysLeap,tickLabels:tickLabelsLeap,years:['2015','2016'],titleYear:'2015/16',titleKind:'(Cold)',
 resHi:p4ResHi,resLo:p4ResLo,intHi:p4IntHi,intLo:p4IntLo,actHi:p4ActHi,actLo:p4ActLo});
</script>
</body>
</html>
